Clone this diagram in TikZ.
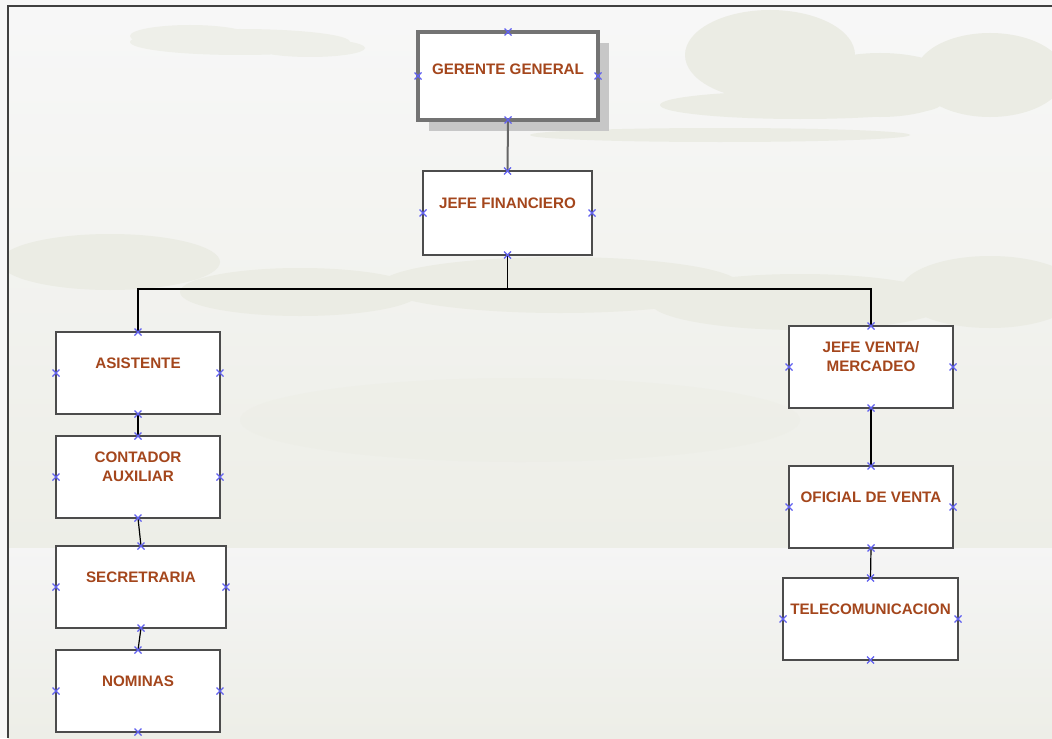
\documentclass[tikz,border=0pt]{standalone}
\usepackage{fontspec}
\setmainfont{Liberation Sans}
\usetikzlibrary{positioning,shadows}
\definecolor{rustred}{RGB}{164,70,28}
\definecolor{puffgray}{RGB}{235,236,228}
\definecolor{skylow}{RGB}{237,238,231}
\definecolor{pinblue}{RGB}{96,96,240}

\begin{document}
\begin{tikzpicture}[x=0.5pt, y=-0.5pt,
    unit/.style={draw=black!70, line width=1pt, fill=white, inner sep=0pt, outer sep=0pt,
      minimum width=82pt, minimum height=41pt},
    lbl/.style={text=rustred, font=\fontsize{7.6}{9.5}\selectfont\bfseries, align=center, yshift=5pt},
    link/.style={line width=0.6pt, black},
    cpt/.style={pinblue, line width=0.6pt},
    puff/.style={fill=puffgray, draw=none}]
  % Background and frame
  \useasboundingbox (0,0) rectangle (1052,738);
  \fill[white!97!black] (0,0) rectangle (1052,738);
  \shade[top color=white!97!black, bottom color=skylow] (8,6) rectangle (1052,548);
  \shade[top color=white!96!black, bottom color=skylow] (8,548) rectangle (1052,738);
  \begin{scope}
    \clip (8,6) rectangle (1052,548);
    % Clouds
    \fill[puff, opacity=0.7] (240,42) ellipse (110 and 13) (190,36) ellipse (60 and 11) (310,48) ellipse (55 and 9);
    \fill[puff] (770,55) ellipse (85 and 45) (880,85) ellipse (80 and 32) (990,75) ellipse (75 and 42)
      (800,105) ellipse (140 and 14) (720,135) ellipse (190 and 7);
    \fill[puff] (110,262) ellipse (110 and 28) (300,292) ellipse (120 and 24) (560,285) ellipse (180 and 28)
      (800,302) ellipse (150 and 28) (990,292) ellipse (90 and 36);
    \fill[puff, opacity=0.4] (520,420) ellipse (280 and 42);
  \end{scope}
  \draw[black!75, line width=1pt] (8,738) -- (8,6) -- (1052,6);
  % Boxes
  \node[unit, draw=black!55, line width=1.6pt, minimum width=90pt, minimum height=44pt,
    drop shadow={shadow xshift=5.5pt, shadow yshift=-5.5pt, fill=black!22, opacity=1},
    label={[lbl, yshift=-1.5pt]center:GERENTE GENERAL}] (gg) at (508,76) {};
  \node[unit, minimum width=84.5pt, minimum height=42pt,
    label={[lbl]center:JEFE FINANCIERO}] (jf) at (507.5,213) {};
  \node[unit, label={[lbl]center:ASISTENTE}] (as) at (138,373) {};
  \node[unit, label={[lbl]center:{CONTADOR\\AUXILIAR}}] (ca) at (138,477) {};
  \node[unit, minimum width=85pt, label={[lbl]center:SECRETRARIA}] (se) at (141,587) {};
  \node[unit, label={[lbl]center:NOMINAS}] (no) at (138,691) {};
  \node[unit, label={[lbl]center:{JEFE VENTA/\\MERCADEO}}] (jv) at (871,367) {};
  \node[unit, label={[lbl]center:OFICIAL DE VENTA}] (ov) at (871,507) {};
  \node[unit, minimum width=87.5pt, label={[lbl]center:TELECOMUNICACION}] (te) at (870.5,619) {};
  % Connectors
  \draw[black!60, line width=1pt] (gg.south) -- (jf.north);
  \draw[link] (jf.south) -- ++(0,34) coordinate (bus);
  \draw[link] (as.north) |- (bus) -| (jv.north);
  \draw[link] (as.south) -- (ca.north);
  \draw[link] (ca.south) -- (se.north);
  \draw[link] (se.south) -- (no.north);
  \draw[link] (jv.south) -- (ov.north);
  \draw[link] (ov.south) -- (te.north);
  % Connection points
  \foreach \n in {gg,jf,as,ca,se,no,jv,ov,te}
    \foreach \a in {north,south,east,west}
      \draw[cpt] ([shift={(-3.5,-3.5)}]\n.\a) -- ([shift={(3.5,3.5)}]\n.\a)
        ([shift={(-3.5,3.5)}]\n.\a) -- ([shift={(3.5,-3.5)}]\n.\a);
\end{tikzpicture}
\end{document}
